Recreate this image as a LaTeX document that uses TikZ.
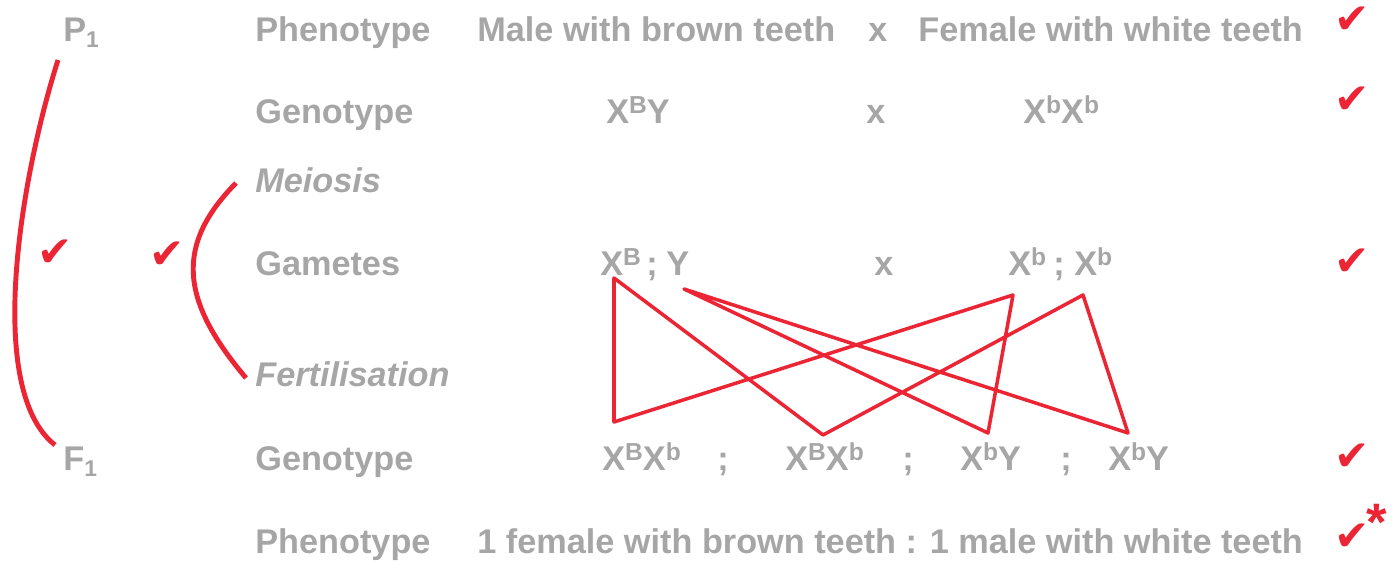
\documentclass[tikz,border=0pt]{standalone}
\usepackage{fontspec}
\setmainfont{Liberation Sans}
\newfontfamily\symfont{DejaVu Sans}
\usetikzlibrary{positioning}
\definecolor{txtgrey}{HTML}{A6A6A6}
\definecolor{markred}{HTML}{EC2535}
\newcommand{\spx}[1]{\raisebox{0.3em}{\fontsize{14}{14}\selectfont #1}}
\newcommand{\sbx}[1]{\raisebox{-0.17em}{\fontsize{13}{13}\selectfont #1}}

\begin{document}
\begin{tikzpicture}[x=0.02cm, y=-0.02cm,
    txt/.style={anchor=base west, inner sep=0pt, text=txtgrey, font=\fontsize{19.5}{23}\selectfont\bfseries},
    tick/.style={inner sep=0pt, text=markred, font=\symfont\fontsize{24}{24}\selectfont},
    link/.style={draw=markred, line width=2pt, line join=round},
    brace/.style={draw=markred, line width=2.8pt}]
        \useasboundingbox (0,0) rectangle (1397,570);

        % generations
        \node (p1) [txt] at (63,42) {P\sbx{1}};
        \node (f1) [txt] at (63,471) {F\sbx{1}};

        % row headings
        \node (hpheno) [txt] at (255,42) {Phenotype};
        \node (hgeno) [txt] at (255,124) {Genotype};
        \node (hmei) [txt, font=\fontsize{19.5}{23}\selectfont\bfseries\itshape] at (255,193) {Meiosis};
        \node (hgam) [txt] at (255,276) {Gametes};
        \node (hfert) [txt, font=\fontsize{19.5}{23}\selectfont\bfseries\itshape] at (255,387) {Fertilisation};
        \node (hfgeno) [txt] at (255,471) {Genotype};
        \node (hfpheno) [txt] at (255,554) {Phenotype};

        % parents
        \node (male) [txt] at (477,42) {Male with brown teeth};
        \node (x1) [txt] at (868,42) {x};
        \node (female) [txt] at (918,42) {Female with white teeth};
        \node (mgeno) [txt] at (606,124) {X\spx{B}Y};
        \node (x2) [txt] at (866,124) {x};
        \node (fgeno) [txt] at (1023,124) {X\spx{b}X\spx{b}};

        % gametes
        \node (gB) [txt] at (600,276) {X\spx{B}};
        \node (gs1) [txt] at (646,276) {;};
        \node (gY) [txt] at (666,276) {Y};
        \node (x3) [txt] at (874,276) {x};
        \node (gb1) [txt] at (1008,276) {X\spx{b}};
        \node (gs2) [txt] at (1053,276) {;};
        \node (gb2) [txt] at (1074,276) {X\spx{b}};

        % offspring
        \node (o1) [txt] at (602,471) {X\spx{B}X\spx{b}};
        \node (os1) [txt] at (717,471) {;};
        \node (o2) [txt] at (785,471) {X\spx{B}X\spx{b}};
        \node (os2) [txt] at (902,471) {;};
        \node (o3) [txt] at (960,471) {X\spx{b}Y};
        \node (os3) [txt] at (1060,471) {;};
        \node (o4) [txt] at (1108,471) {X\spx{b}Y};
        \node (ratio) [txt] at (477,554) {1 female with brown teeth : 1 male with white teeth};

        % marks
        \node (t1) [tick] at (1352,20) {✔};
        \node (t2) [tick] at (1352,100) {✔};
        \node (t3) [tick] at (1352,262) {✔};
        \node (t4) [tick] at (1352,457) {✔};
        \node (t5) [tick] at (1352,537) {✔};
        \node (star) [inner sep=0pt, text=markred, font=\fontsize{30}{30}\selectfont\bfseries] at (1377,522) {*};
        \node (tp) [tick] at (55,253) {✔};
        \node (tm) [tick] at (167,255) {✔};

        % brackets
        \coordinate (p1-end) at (58,60);
        \coordinate (f1-end) at (55,445);
        \coordinate (mei-end) at (236,183);
        \coordinate (fert-end) at (246,378);
        \draw [brace] (p1-end) .. controls (20,180) and (-15,390) .. (f1-end);
        \draw [brace] (mei-end) .. controls (175,245) and (180,300) .. (fert-end);

        % crosses
        \coordinate (cB) at (614,278);
        \coordinate (cY) at (684,289);
        \coordinate (cb1) at (1013,295);
        \coordinate (cb2) at (1083,295);
        \coordinate (co1) at (614,422);
        \coordinate (co2) at (823,435);
        \coordinate (co3) at (988,433);
        \coordinate (co4) at (1128,433);
        \draw [link] (cB) -- (co1) -- (cb1) -- (co3) -- (cY) -- (co4) -- (cb2) -- (co2) -- cycle;
    \end{tikzpicture}
\end{document}
